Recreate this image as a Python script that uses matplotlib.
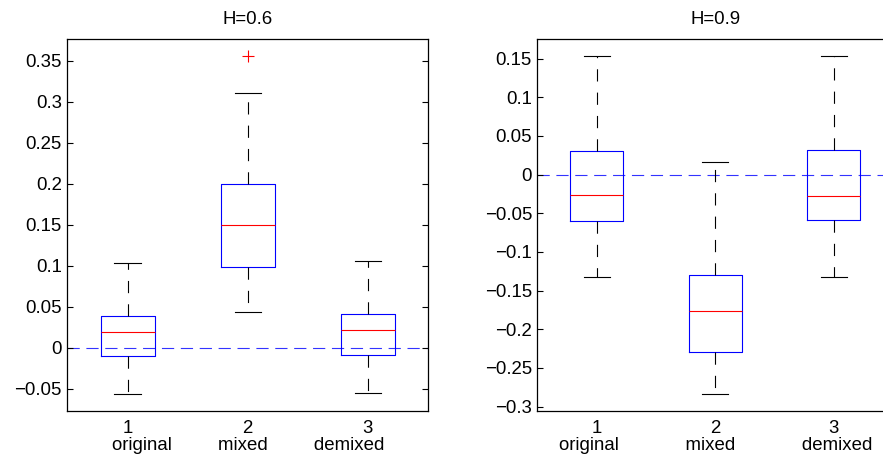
import matplotlib
matplotlib.use("Agg")
import matplotlib.pyplot as plt
from matplotlib.ticker import FuncFormatter

plt.rcParams["font.family"] = ["Liberation Sans", "DejaVu Sans"]
plt.rcParams["font.size"] = 13.4

positions = [1, 2, 3]
tick_labels = ["1", "2", "3"]
group_names = ["original", "mixed", "demixed"]

# H=0.6 panel
h06_q1 = [-0.010, 0.099, -0.009]
h06_med = [0.0195, 0.1496, 0.0216]
h06_q3 = [0.039, 0.1997, 0.0415]
h06_lo = [-0.0561, 0.0439, -0.0552]
h06_hi = [0.1037, 0.3106, 0.1061]
h06_fliers = [[], [0.3557], []]

# H=0.9 panel
h09_q1 = [-0.0595, -0.2298, -0.059]
h09_med = [-0.0267, -0.176, -0.0272]
h09_q3 = [0.0307, -0.1298, 0.0316]
h09_lo = [-0.132, -0.2833, -0.132]
h09_hi = [0.154, 0.016, 0.1536]
h09_fliers = [[], [], []]


def make_stats(q1, med, q3, lo, hi, fliers):
    return [
        dict(q1=a, med=b, q3=c, whislo=d, whishi=e, fliers=f)
        for a, b, c, d, e, f in zip(q1, med, q3, lo, hi, fliers)
    ]


def draw_panel(ax, stats, title, ylim, yticks, gap):
    ax.bxp(
        stats,
        positions=positions,
        widths=0.45,
        capwidths=0.22,
        showfliers=True,
        boxprops=dict(color="blue", linewidth=0.8),
        medianprops=dict(color="red", linewidth=0.8),
        whiskerprops=dict(color="black", linewidth=0.8, linestyle=(0, (11, 10))),
        capprops=dict(color="black", linewidth=0.8),
        flierprops=dict(marker="+", markeredgecolor="red", markersize=9, markeredgewidth=0.8),
    )
    ax.axhline(0, color="#3333ff", linewidth=0.8, linestyle=(0, (11, 6)), zorder=0)
    ax.set_xlim(0.5, 3.5)
    ax.set_ylim(*ylim)
    ax.set_yticks(yticks)
    ax.yaxis.set_major_formatter(FuncFormatter(lambda v, p: ("%g" % round(v, 4)).replace("-", "\u2212")))
    ax.set_xticks(positions)
    ax.set_xticklabels(tick_labels)
    ax.tick_params(axis="y", direction="in", length=4, width=0.8, right=True, pad=4)
    ax.tick_params(axis="x", length=0, pad=6.5)
    ax.set_xlabel((" " * gap).join(group_names), labelpad=0)
    ax.set_title(title, fontsize=13.4, pad=11)
    for s in ax.spines.values():
        s.set_linewidth(0.9)


fig = plt.figure(figsize=(8.83, 4.59), dpi=100)
ax1 = fig.add_axes([0.0764, 0.1046, 0.4083, 0.8105])
ax2 = fig.add_axes([0.6087, 0.1046, 0.4026, 0.8105])

draw_panel(ax1, make_stats(h06_q1, h06_med, h06_q3, h06_lo, h06_hi, h06_fliers),
           "H=0.6", (-0.077, 0.3765), [-0.05, 0, 0.05, 0.1, 0.15, 0.2, 0.25, 0.3, 0.35], 9)
draw_panel(ax2, make_stats(h09_q1, h09_med, h09_q3, h09_lo, h09_hi, h09_fliers),
           "H=0.9", (-0.3057, 0.1755), [-0.3, -0.25, -0.2, -0.15, -0.1, -0.05, 0, 0.05, 0.1, 0.15], 13)

fig.savefig("out.png", dpi=100)
